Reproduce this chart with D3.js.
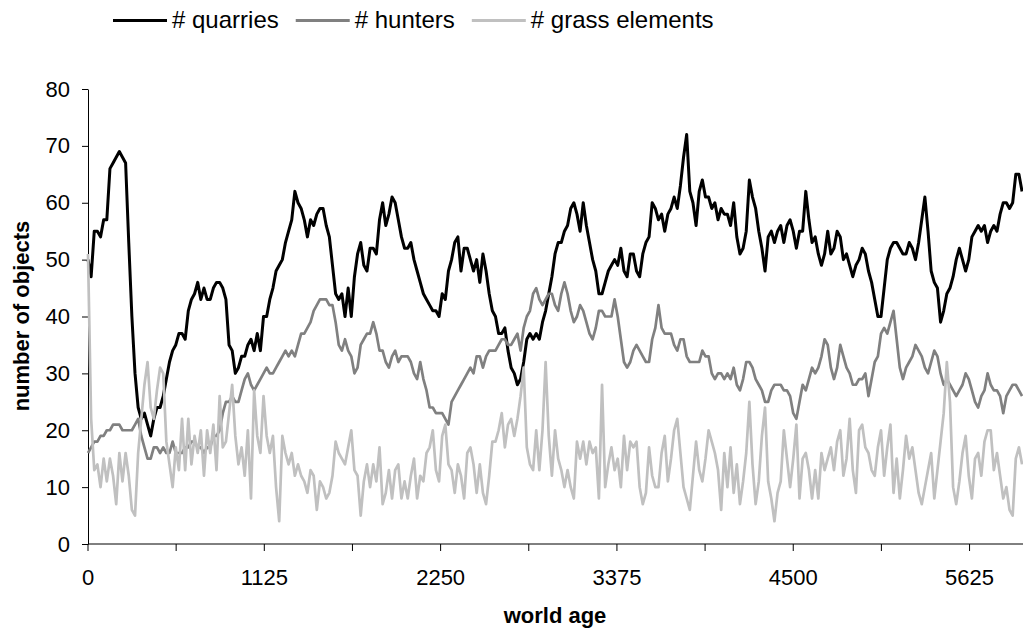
<!DOCTYPE html>
<html>
<head>
<meta charset="utf-8">
<script src="https://d3js.org/d3.v7.min.js"></script>
<style>
 body { margin: 0; background: #fff; }
 text { font-family: Arial, "Liberation Sans", sans-serif; }
</style>
</head>
<body>
<script>
// world age is sampled every 20 steps
var ageStep = 20;

var quarries = [
 50,47,55,55,54,57,57,66,67,68,69,68,67,53,40,30,24,22,23,21,19,22,24,24,26,29,32,34,35,37,
 37,36,41,43,44,46,43,45,43,43,45,46,46,45,43,35,34,30,31,33,33,35,36,34,37,34,40,40,43,45,
 48,49,50,53,55,57,62,60,59,57,54,57,56,58,59,
 59,56,54,49,44,43,44,40,45,40,47,51,53,49,48,52,52,51,57,60,56,58,61,60,57,54,52,52,53,50,
 48,46,44,43,42,41,41,40,44,43,48,50,53,54,48,52,52,50,48,50,46,51,48,44,41,40,37,37,38,34,
 31,30,28,29,32,36,37,36,37,36,39,41,44,47,
 51,53,53,55,56,59,60,58,55,60,56,53,50,48,44,44,46,48,49,50,49,52,48,47,51,51,48,47,51,53,
 54,60,59,57,58,55,58,59,61,59,63,68,72,62,60,56,62,64,61,61,59,60,57,59,58,58,56,60,54,51,
 52,55,64,61,59,55,52,48,54,55,53,55,56,53,
 56,57,55,52,55,55,62,57,53,54,51,49,51,55,51,52,55,54,50,51,49,47,49,50,52,51,48,46,43,40,
 40,45,50,52,53,53,52,51,51,53,52,50,53,57,61,55,48,46,45,39,41,44,45,47,50,52,50,48,50,54,
 55,56,55,56,53,55,56,55,58,60,60,59,60,65,65,62
];

var hunters = [
 16,17,18,18,19,19,20,20,21,21,21,20,20,20,20,21,22,19,17,15,15,17,17,16,17,16,16,18,16,16,
 16,17,17,18,18,17,17,16,17,17,19,19,20,23,25,25,26,25,25,27,29,30,28,27,28,29,30,31,30,30,
 31,32,33,34,33,34,33,35,37,37,38,39,41,42,43,
 43,43,42,42,39,35,34,36,34,33,30,31,35,36,37,37,39,37,34,34,32,31,33,34,32,33,33,33,32,30,
 29,32,29,27,24,24,23,23,23,22,21,25,26,27,28,29,30,31,30,33,33,31,33,34,34,34,35,36,36,35,
 35,36,37,34,38,40,41,44,45,43,42,43,44,44,
 42,41,44,46,44,41,39,40,42,41,39,37,36,38,41,41,40,40,40,43,40,36,32,31,32,34,35,34,33,32,
 32,36,38,42,38,37,37,37,35,34,36,36,33,32,32,32,32,34,33,33,30,29,30,30,29,30,29,31,28,27,
 29,32,32,31,29,28,27,25,25,27,28,28,28,27,
 27,26,23,22,25,28,27,29,31,30,31,33,36,35,31,29,31,35,33,31,30,28,28,29,29,30,26,29,32,33,
 37,38,37,39,41,36,31,29,31,32,33,35,34,33,31,30,32,34,33,30,28,29,28,27,26,27,28,30,29,27,
 25,24,26,27,30,28,27,27,26,23,26,27,28,28,27,26
];

var grass = [
 51,22,13,14,10,15,11,15,12,7,16,11,16,12,6,5,16,22,28,32,24,22,27,31,30,18,14,10,17,13,22,13,22,14,19,16,20,12,20,16,
 21,13,26,17,18,23,28,19,14,17,12,20,8,27,19,16,26,19,16,19,10,4,19,16,14,16,12,14,12,11,9,13,12,6,11,
 10,8,9,12,18,16,15,14,17,20,13,12,5,11,14,10,14,11,17,7,9,13,8,13,14,8,11,8,12,15,8,12,11,16,17,20,13,11,19,21,
 14,13,9,14,12,8,16,17,14,9,14,9,7,12,18,18,20,23,17,21,22,19,22,26,31,17,14,13,20,13,20,32,19,12,
 20,15,13,10,13,10,8,18,15,18,14,18,16,17,8,28,10,14,17,13,15,10,19,13,18,17,18,10,7,9,17,12,10,10,16,19,11,15,20,22,
 16,10,8,6,12,18,13,11,15,20,18,16,13,6,16,10,17,9,14,7,11,16,25,14,7,11,19,24,11,8,4,9,11,20,
 15,10,15,21,8,15,16,13,8,13,8,16,13,15,17,13,18,20,12,15,22,13,9,20,21,17,16,13,12,17,20,12,17,21,9,15,8,13,19,15,
 17,13,9,7,10,13,16,8,13,18,23,32,25,10,7,11,16,19,12,8,15,16,12,18,20,20,13,16,12,8,10,6,5,15,17,14
];

var xTicks = [0,562.5,1125,1687.5,2250,2812.5,3375,3937.5,4500,5062.5,5625];
var xLabels = [0,1125,2250,3375,4500,5625];
var yTicks = [0,10,20,30,40,50,60,70,80];

var seriesNames = ["# quarries", "# hunters", "# grass elements"];
var seriesColors = ["#000000", "#808080", "#c0c0c0"];

var W = 1023, H = 629;
var svg = d3.select("body").append("svg")
  .attr("width", W).attr("height", H);

var x = d3.scaleLinear().domain([0, 5966]).range([88, 1023]);
var y = d3.scaleLinear().domain([0, 80]).range([544, 89]);

// axes
var yAxis = svg.append("g")
  .attr("transform", "translate(88,0)")
  .call(d3.axisLeft(y).tickValues(yTicks).tickSize(6).tickSizeOuter(0).tickPadding(12));
yAxis.selectAll("text").style("font-size", "22px").attr("fill", "#000");
yAxis.selectAll("line,path").attr("stroke", "#000");

var xAxis = svg.append("g")
  .attr("transform", "translate(0,544)")
  .call(d3.axisBottom(x).tickValues(xTicks).tickSize(7).tickSizeOuter(0).tickPadding(18).offset(0)
    .tickFormat(function(d) { return xLabels.indexOf(d) >= 0 ? d : ""; }));
xAxis.selectAll("text").style("font-size", "22px").attr("fill", "#000");
xAxis.selectAll("line,path").attr("stroke", "#000");

// lines
var lineGen = d3.line()
  .x(function(d, i) { return x(i * ageStep); })
  .y(function(d) { return y(d); });

svg.append("g").selectAll("path")
  .data([quarries, hunters, grass])
  .enter().append("path")
  .attr("d", lineGen)
  .attr("fill", "none")
  .attr("stroke", function(d, i) { return seriesColors[i]; })
  .attr("stroke-width", function(d, i) { return i === 0 ? 3 : 2.7; })
  .attr("stroke-linejoin", "round");

// axis titles
svg.append("text")
  .attr("x", 555).attr("y", 623)
  .attr("text-anchor", "middle")
  .style("font-size", "22px").style("font-weight", "bold")
  .text("world age");

svg.append("text")
  .attr("transform", "translate(29,316) rotate(-90)")
  .attr("text-anchor", "middle")
  .style("font-size", "22px").style("font-weight", "bold")
  .text("number of objects");

// legend
var lx = 113;
seriesNames.forEach(function(name, i) {
  svg.append("line")
    .attr("x1", lx).attr("x2", lx + 54)
    .attr("y1", 20.5).attr("y2", 20.5)
    .attr("stroke", seriesColors[i]).attr("stroke-width", 3);
  var t = svg.append("text")
    .attr("x", lx + 59).attr("y", 28)
    .style("font-size", "24px")
    .text(name);
  lx = lx + 59 + t.node().getComputedTextLength() + 17;
});
</script>
</body>
</html>
